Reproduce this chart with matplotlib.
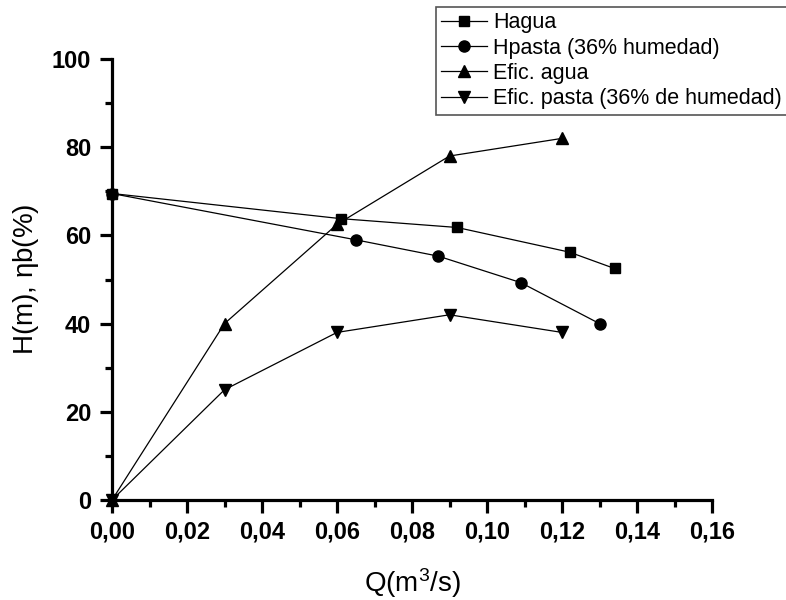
import matplotlib
matplotlib.use("Agg")
import matplotlib.pyplot as plt
from matplotlib.ticker import MultipleLocator, FormatStrFormatter

plt.rcParams['font.family'] = ['Liberation Sans', 'DejaVu Sans']
plt.rcParams['mathtext.fontset'] = 'custom'
plt.rcParams['mathtext.rm'] = 'Liberation Sans'
plt.rcParams['mathtext.default'] = 'regular'

# data
q_agua = [0.0, 0.061, 0.092, 0.122, 0.134]
h_agua = [69.5, 63.8, 61.8, 56.2, 52.5]

q_pasta = [0.0, 0.065, 0.087, 0.109, 0.130]
h_pasta = [69.5, 59.0, 55.3, 49.3, 40.0]

q_efic = [0.0, 0.03, 0.06, 0.09, 0.12]
efic_agua = [0.0, 40.0, 62.5, 78.0, 82.0]
efic_pasta = [0.0, 25.0, 38.0, 42.0, 38.0]

labels = ["Hagua", "Hpasta (36% humedad)", "Efic. agua",
          "Efic. pasta (36% de humedad)"]

fig = plt.figure(figsize=(7.86, 6.0), dpi=100)
ax = fig.add_axes([112 / 786, 100 / 600, 600 / 786, 441 / 600])

lw = 0.9
ax.plot(q_agua, h_agua, color='black', lw=lw, marker='s', ms=7, label=labels[0], clip_on=False)
ax.plot(q_pasta, h_pasta, color='black', lw=lw, marker='o', ms=8, label=labels[1], clip_on=False)
ax.plot(q_efic, efic_agua, color='black', lw=lw, marker='^', ms=8.5, label=labels[2], clip_on=False)
ax.plot(q_efic, efic_pasta, color='black', lw=lw, marker='v', ms=8.5, label=labels[3], clip_on=False)

ax.set_xlim(0, 0.16)
ax.set_ylim(0, 100)

ax.spines['top'].set_visible(False)
ax.spines['right'].set_visible(False)
for s in ['left', 'bottom']:
    ax.spines[s].set_linewidth(2.3)

ax.xaxis.set_major_locator(MultipleLocator(0.02))
ax.xaxis.set_minor_locator(MultipleLocator(0.01))
ax.yaxis.set_major_locator(MultipleLocator(20))
ax.yaxis.set_minor_locator(MultipleLocator(10))
ax.xaxis.set_major_formatter(FormatStrFormatter('%.2f'))
ax.set_xticklabels([f"{v:.2f}".replace('.', ',') for v in ax.get_xticks()])

ax.tick_params(which='major', direction='out', length=9, width=2.3, labelsize=17, pad=6)
ax.tick_params(which='minor', direction='out', length=5, width=2.3)
for lab in ax.get_xticklabels() + ax.get_yticklabels():
    lab.set_fontweight('bold')

ax.set_xlabel(r'Q(m$^{3}$/s)', fontsize=20, labelpad=16)
ax.set_ylabel(r'H(m), $\eta$b(%)', fontsize=20, labelpad=8)

leg = fig.legend(loc='upper left', bbox_to_anchor=(436 / 786, 1 - 7 / 600),
                 fontsize=15.5, numpoints=1, handlelength=2.1, handletextpad=0.3,
                 labelspacing=0.2, borderpad=0.25, borderaxespad=0,
                 fancybox=False, framealpha=1)
leg.get_frame().set_edgecolor('#555555')
leg.get_frame().set_linewidth(1.2)

fig.savefig('out.png', dpi=100)
